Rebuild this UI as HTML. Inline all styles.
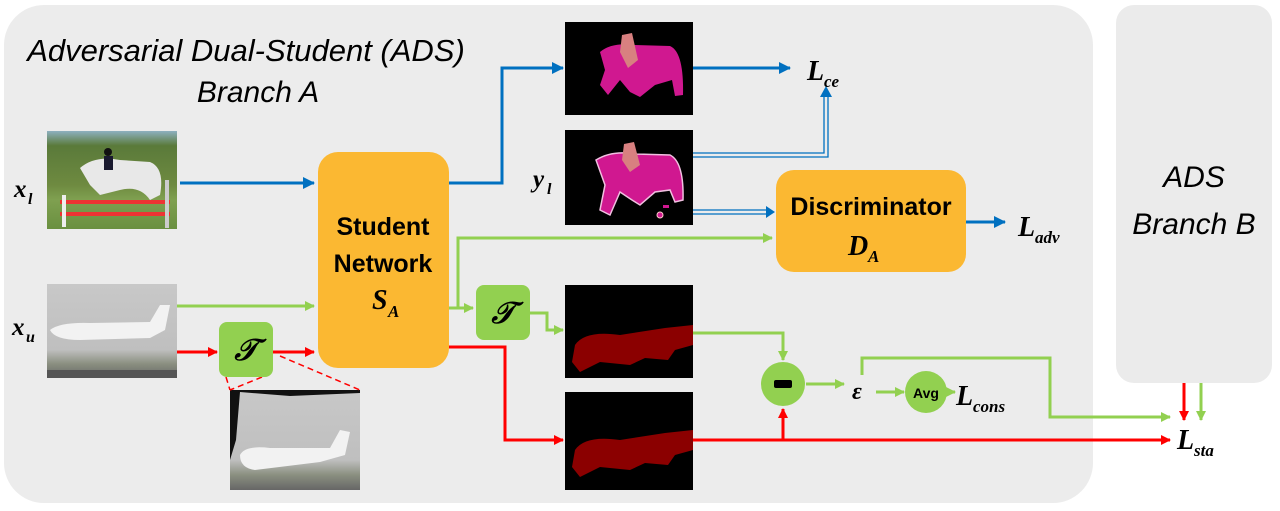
<!DOCTYPE html>
<html><head><meta charset="utf-8"><style>
html,body{margin:0;padding:0;background:#fff;width:1280px;height:511px;overflow:hidden}
svg{display:block}
.it{font-family:"Liberation Sans",sans-serif;font-style:italic}
.m{font-family:"Liberation Serif",serif;font-style:italic;font-weight:bold}
.b{font-family:"Liberation Sans",sans-serif;font-weight:bold}
</style></head><body>
<svg width="1280" height="511" viewBox="0 0 1280 511" xmlns="http://www.w3.org/2000/svg">
<defs>
<marker id="ag" markerWidth="10" markerHeight="10" refX="9" refY="5" orient="auto" markerUnits="userSpaceOnUse"><path d="M0,0 L10,5 L0,10z" fill="#92d050"/></marker>
<marker id="ar" markerWidth="10" markerHeight="10" refX="9" refY="5" orient="auto" markerUnits="userSpaceOnUse"><path d="M0,0 L10,5 L0,10z" fill="#ff0000"/></marker>
<marker id="ab2" markerWidth="12" markerHeight="12" refX="11" refY="6" orient="auto" markerUnits="userSpaceOnUse"><path d="M0,0 L12,6 L0,12z" fill="#0070c0"/></marker>
<linearGradient id="sky" x1="0" y1="0" x2="0" y2="1"><stop offset="0" stop-color="#c8c8c8"/><stop offset="0.7" stop-color="#bfbfbf"/><stop offset="0.85" stop-color="#8a8f80"/><stop offset="1" stop-color="#666"/></linearGradient>
<linearGradient id="grass" x1="0" y1="0" x2="0" y2="1"><stop offset="0" stop-color="#8db0c0"/><stop offset="0.15" stop-color="#5a7a3a"/><stop offset="0.55" stop-color="#6e8a40"/><stop offset="0.7" stop-color="#7fa050"/><stop offset="1" stop-color="#6a9040"/></linearGradient>
</defs>
<rect x="4" y="5" width="1089" height="498" rx="40" fill="#ececec"/>
<rect x="1116" y="5" width="156" height="378" rx="18" fill="#ebebeb"/>
<text x="246" y="61" text-anchor="middle" class="it" font-size="31">Adversarial Dual-Student (ADS)</text>
<text x="258" y="102" text-anchor="middle" class="it" font-size="30">Branch A</text>
<text x="1194" y="187" text-anchor="middle" class="it" font-size="30">ADS</text>
<text x="1194" y="234" text-anchor="middle" class="it" font-size="30">Branch B</text>

<!-- horse photo -->
<rect x="47" y="131" width="130" height="98" fill="url(#grass)"/>
<path d="M80,168 Q95,155 120,160 L150,162 Q165,168 160,195 L150,200 Q140,185 120,190 L100,195 L90,185 Z" fill="#e8e8e8"/>
<rect x="60" y="200" width="110" height="4" fill="#e33"/><rect x="60" y="212" width="110" height="4" fill="#e33"/>
<rect x="62" y="195" width="4" height="32" fill="#eee"/><rect x="165" y="180" width="4" height="48" fill="#ccc"/>
<circle cx="108" cy="152" r="4" fill="#111"/><rect x="104" y="156" width="9" height="14" fill="#1a1a30"/>
<!-- plane photo -->
<rect x="47" y="284" width="130" height="94" fill="url(#sky)"/>
<path d="M50,330 Q60,322 90,323 L150,322 L160,305 L170,305 L165,330 L150,338 L80,340 Q55,340 50,330Z" fill="#f2f2f2"/>
<rect x="47" y="370" width="130" height="8" fill="#555"/>
<text x="14" y="197" class="m" font-size="25" font-weight="normal">x</text><text x="28" y="204" class="m" font-size="16" font-weight="normal">l</text>
<text x="12" y="335" class="m" font-size="25" font-weight="normal">x</text><text x="26" y="342" class="m" font-size="16" font-weight="normal">u</text>

<!-- warped plane -->
<rect x="230" y="390" width="130" height="100" fill="url(#sky)"/>
<path d="M230,390 L360,390 L360,393 L290,396 L240,392 L236,440 L230,460Z" fill="#111"/>
<path d="M240,455 Q245,445 270,448 L330,448 L340,430 L350,432 L345,455 L320,462 L255,470 Q240,468 240,455Z" fill="#f2f2f2"/>
<line x1="226" y1="377" x2="230" y2="390" stroke="#f00" stroke-width="1.5" stroke-dasharray="6,4"/>
<line x1="262" y1="377" x2="230" y2="390" stroke="#f00" stroke-width="1.5" stroke-dasharray="6,4"/>
<line x1="280" y1="356" x2="360" y2="390" stroke="#f00" stroke-width="1.5" stroke-dasharray="6,4"/>

<!-- seg images -->
<rect x="565" y="22" width="128" height="93" fill="#000"/>
<path d="M600,52 Q612,42 635,45 L670,46 Q684,52 683,95 L675,96 L672,80 L655,85 L640,97 L630,92 L620,80 L608,95 L600,85 L605,70 Z" fill="#d01890"/>
<path d="M622,35 L632,33 L638,60 L628,68 L620,52 Z" fill="#d88080"/>
<rect x="565" y="130" width="128" height="95" fill="#000"/>
<path d="M596,160 Q612,150 635,154 L670,155 Q684,162 683,200 L675,202 L670,190 L655,192 L640,205 L632,200 L620,192 L610,215 L600,210 L605,185 Z" fill="#d01890" stroke="#f0c0e0" stroke-width="1.5"/>
<path d="M624,144 L634,142 L640,165 L630,172 L622,160 Z" fill="#d88080"/>
<circle cx="660" cy="215" r="3" fill="#d01890" stroke="#fcc" stroke-width="1"/><rect x="663" y="205" width="6" height="3" fill="#d01890"/>
<text x="533" y="187" class="m" font-size="25" font-weight="normal">y</text><text x="547" y="194" class="m" font-size="16" font-weight="normal">l</text>
<rect x="565" y="285" width="128" height="93" fill="#000"/>
<path d="M575,345 Q585,330 620,335 L665,328 L693,325 L693,345 L675,350 L668,360 L645,358 L630,365 L600,362 L580,372 L572,362 Z" fill="#8b0000"/>
<rect x="565" y="392" width="128" height="98" fill="#000"/>
<path d="M575,450 Q585,435 620,440 L665,433 L693,430 L693,450 L675,455 L668,465 L645,463 L630,470 L600,467 L580,477 L572,467 Z" fill="#8b0000"/>

<!-- boxes -->
<rect x="318" y="152" width="131" height="216" rx="20" fill="#fbb832"/>
<text x="383" y="235" text-anchor="middle" class="b" font-size="25">Student</text>
<text x="383" y="272" text-anchor="middle" class="b" font-size="25">Network</text>
<text x="372" y="309" class="m" font-size="28">S</text><text x="388" y="317" class="m" font-size="17">A</text>
<rect x="776" y="170" width="190" height="102" rx="18" fill="#fbb832"/>
<text x="871" y="215" text-anchor="middle" class="b" font-size="25">Discriminator</text>
<text x="848" y="255" class="m" font-size="28">D</text><text x="868" y="262" class="m" font-size="17">A</text>
<rect x="219" y="322" width="54" height="55" rx="8" fill="#92d050"/>
<text x="246" y="360" text-anchor="middle" class="m" font-size="30">𝒯</text>
<rect x="476" y="285" width="54" height="55" rx="8" fill="#92d050"/>
<text x="503" y="323" text-anchor="middle" class="m" font-size="30">𝒯</text>
<circle cx="783" cy="384" r="22" fill="#92d050"/>
<rect x="774" y="380" width="18" height="8" rx="2" fill="#000"/>
<circle cx="926" cy="392" r="21" fill="#92d050"/>
<text x="926" y="398" text-anchor="middle" class="b" font-size="14">Avg</text>

<!-- connectors -->
<g fill="none" stroke-width="3">
<line x1="180" y1="183" x2="314" y2="183" stroke="#0070c0" marker-end="url(#ab2)"/>
<polyline points="449,183 502,183 502,68 563,68" stroke="#0070c0" marker-end="url(#ab2)"/>
<line x1="693" y1="68" x2="790" y2="68" stroke="#0070c0" marker-end="url(#ab2)"/>
<line x1="966" y1="222" x2="1005" y2="222" stroke="#0070c0" marker-end="url(#ab2)"/>
<line x1="177" y1="306" x2="314" y2="306" stroke="#92d050" marker-end="url(#ag)"/>
<line x1="177" y1="352" x2="217" y2="352" stroke="#ff0000" marker-end="url(#ar)"/>
<line x1="273" y1="352" x2="314" y2="352" stroke="#ff0000" marker-end="url(#ar)"/>
<polyline points="449,308 473,308" stroke="#92d050" marker-end="url(#ag)"/>
<polyline points="458,308 458,238 772,238" stroke="#92d050" marker-end="url(#ag)"/>
<polyline points="530,313 547,313 547,330 563,330" stroke="#92d050" marker-end="url(#ag)"/>
<polyline points="449,347 505,347 505,440 563,440" stroke="#ff0000" marker-end="url(#ar)"/>
<polyline points="693,333 783,333 783,360" stroke="#92d050" marker-end="url(#ag)"/>
<line x1="693" y1="440" x2="1170" y2="440" stroke="#ff0000" marker-end="url(#ar)"/>
<line x1="783" y1="440" x2="783" y2="409" stroke="#ff0000" marker-end="url(#ar)"/>
<line x1="806" y1="384" x2="844" y2="384" stroke="#92d050" marker-end="url(#ag)"/>
<line x1="876" y1="392" x2="904" y2="392" stroke="#92d050" marker-end="url(#ag)"/>
<line x1="947" y1="392" x2="955" y2="392" stroke="#92d050" marker-end="url(#ag)"/>
<polyline points="862,375 862,358 1050,358 1050,417 1170,417" stroke="#92d050" marker-end="url(#ag)"/>
<line x1="1184" y1="383" x2="1184" y2="420" stroke="#ff0000" marker-end="url(#ar)"/>
<line x1="1201" y1="383" x2="1201" y2="420" stroke="#92d050" marker-end="url(#ag)"/>
</g>
<g fill="none" stroke="#0070c0" stroke-width="1.3">
<polyline points="693,153 824,153 824,95"/><polyline points="693,157 828,157 828,95"/>
<line x1="693" y1="210" x2="768" y2="210"/><line x1="693" y1="214" x2="768" y2="214"/>
</g>
<path d="M820,97 L826,86 L832,97z" fill="#0070c0"/>
<path d="M766,206 L775,212 L766,218z" fill="#0070c0"/>

<text x="807" y="80" class="m" font-size="28">L</text><text x="824" y="87" class="m" font-size="17">ce</text>
<text x="1018" y="236" class="m" font-size="28">L</text><text x="1035" y="243" class="m" font-size="17">adv</text>
<text x="956" y="405" class="m" font-size="28">L</text><text x="973" y="412" class="m" font-size="17">cons</text>
<text x="1177" y="449" class="m" font-size="28">L</text><text x="1194" y="456" class="m" font-size="17">sta</text>
<text x="852" y="399" class="m" font-size="24">ε</text>
</svg>
</body></html>
